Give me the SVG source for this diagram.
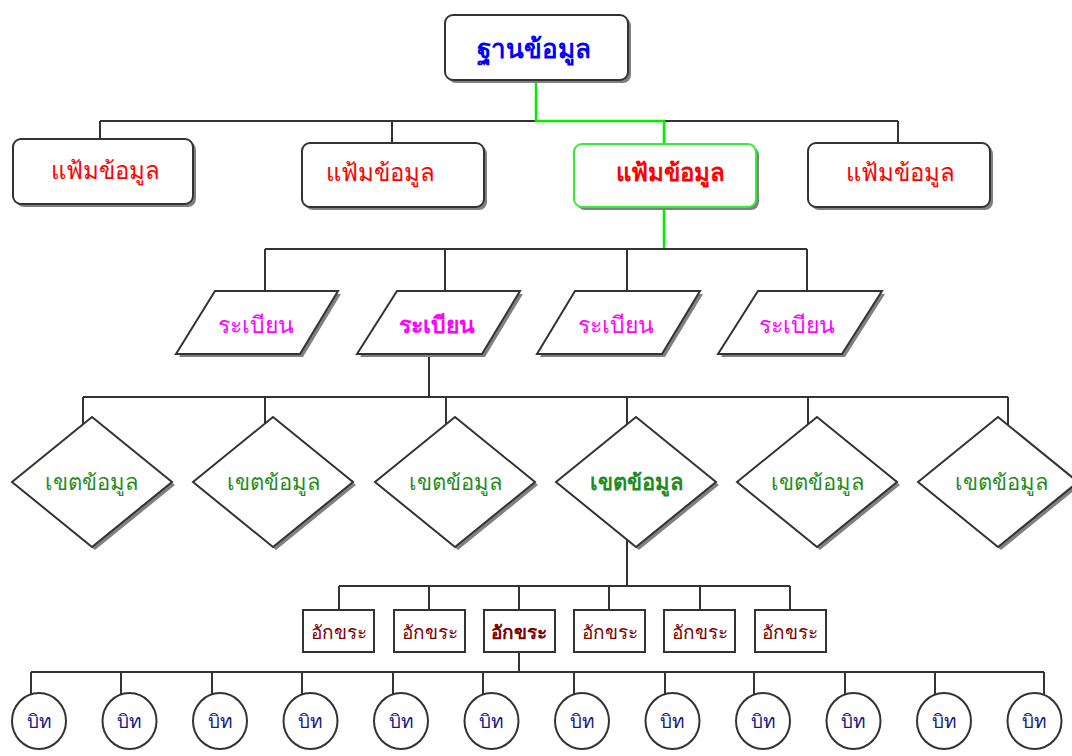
<svg xmlns="http://www.w3.org/2000/svg" width="1072" height="756" viewBox="0 0 1072 756">
<defs>
<style>
.bg{fill:#ffffff}
.ln{stroke:#333333;stroke-width:2;fill:none}
.gl{stroke:#00ee00;stroke-width:2.5;fill:none}
.box{fill:#ffffff;stroke:#333333;stroke-width:2}
.gbox{fill:#ffffff;stroke:#33ee33;stroke-width:2}
.sh{fill:#808080}
.t{font-family:"Noto Sans","DejaVu Sans",sans-serif;text-anchor:middle;dominant-baseline:central}
.t0{font-size:26px;font-weight:bold;fill:#0000ff}
.t1{font-size:24px;fill:#ff0000}
.t2{font-size:23px;fill:#ff00ff}
.t3{font-size:22px;fill:#1e8c1e}
.t4{font-size:19px;fill:#800000}
.t5{font-size:19px;fill:#1a1a8c}
.b{font-weight:bold}
</style>
</defs>
<rect class="bg" x="0" y="0" width="1072" height="756"/>
<g id="connectors">
<path class="ln" d="M100,121 H536 M664,121 H898 M100,121 V139 M392,121 V143 M898,121 V143"/>
<path class="gl" d="M536,80 V121 H664 V144 M664,207 V249"/>
<path class="ln" d="M265,249 H807 M265,249 V291 M445,249 V291 M627,249 V291 M807,249 V291"/>
<path class="ln" d="M429,354 V397 M83,397 H1008 M83,397 V430 M265,397 V430 M446,397 V430 M627,397 V430 M808,397 V430 M1008,397 V430"/>
<path class="ln" d="M627,538 V586 M339,586 H790 M339,586 V610 M429,586 V610 M519,586 V610 M609,586 V610 M700,586 V610 M790,586 V610"/>
<path class="ln" d="M519,652 V672 M31,672 H1044 M31,672 V700 M121,672 V700 M212,672 V700 M302,672 V700 M393,672 V700 M483,672 V700 M574,672 V700 M665,672 V700 M754,672 V700 M845,672 V700 M935,672 V700 M1044,672 V700"/>
</g>
<g id="n0">
<rect class="sh" x="448" y="18" width="183" height="65" rx="8"/>
<rect class="box" x="445" y="15" width="183" height="65" rx="8"/>
<text class="t t0" x="534" y="48">ฐานข้อมูล</text>
</g>
<g id="f1">
<rect class="sh" x="16" y="142" width="180" height="65" rx="8"/>
<rect class="box" x="13" y="139" width="180" height="65" rx="8"/>
<text class="t t1" x="105" y="169">แฟ้มข้อมูล</text>
</g>
<g id="f2">
<rect class="sh" x="305" y="146" width="182" height="64" rx="8"/>
<rect class="box" x="302" y="143" width="182" height="64" rx="8"/>
<text class="t t1" x="380" y="171">แฟ้มข้อมูล</text>
</g>
<g id="f3">
<rect class="sh" x="577" y="147" width="182" height="63" rx="8"/>
<rect class="gbox" x="574" y="144" width="182" height="63" rx="8"/>
<text class="t t1 b" x="670" y="171">แฟ้มข้อมูล</text>
</g>
<g id="f4">
<rect class="sh" x="811" y="146" width="182" height="64" rx="8"/>
<rect class="box" x="808" y="143" width="182" height="64" rx="8"/>
<text class="t t1" x="900" y="171">แฟ้มข้อมูล</text>
</g>
<g id="r1">
<polygon class="sh" points="218,294 341,294 303,357 179,357"/>
<polygon class="box" points="215,291 338,291 300,354 176,354"/>
<text class="t t2" x="256" y="324">ระเบียน</text>
</g>
<g id="r2">
<polygon class="sh" points="400,294 523,294 485,357 360,357"/>
<polygon class="box" points="397,291 520,291 482,354 357,354"/>
<text class="t t2 b" x="437" y="324">ระเบียน</text>
</g>
<g id="r3">
<polygon class="sh" points="578,294 703,294 665,357 540,357"/>
<polygon class="box" points="575,291 700,291 662,354 537,354"/>
<text class="t t2" x="616" y="324">ระเบียน</text>
</g>
<g id="r4">
<polygon class="sh" points="761,294 885,294 845,357 721,357"/>
<polygon class="box" points="758,291 882,291 842,354 718,354"/>
<text class="t t2" x="797" y="324">ระเบียน</text>
</g>
<g id="d1">
<polygon class="sh" points="95,420 175,485 95,550 15,485"/>
<polygon class="box" points="92,417 172,482 92,547 12,482"/>
<text class="t t3" x="91" y="481">เขตข้อมูล</text>
</g>
<g id="d2">
<polygon class="sh" points="276,420 356,485 276,550 196,485"/>
<polygon class="box" points="273,417 353,482 273,547 193,482"/>
<text class="t t3" x="273" y="481">เขตข้อมูล</text>
</g>
<g id="d3">
<polygon class="sh" points="458,420 538,485 458,550 378,485"/>
<polygon class="box" points="455,417 535,482 455,547 375,482"/>
<text class="t t3" x="455" y="481">เขตข้อมูล</text>
</g>
<g id="d4">
<polygon class="sh" points="639,420 719,485 639,550 559,485"/>
<polygon class="box" points="636,417 716,482 636,547 556,482"/>
<text class="t t3 b" x="636" y="481">เขตข้อมูล</text>
</g>
<g id="d5">
<polygon class="sh" points="820,420 900,485 820,550 740,485"/>
<polygon class="box" points="817,417 897,482 817,547 737,482"/>
<text class="t t3" x="817" y="481">เขตข้อมูล</text>
</g>
<g id="d6">
<polygon class="sh" points="1001,420 1081,485 1001,550 921,485"/>
<polygon class="box" points="998,417 1078,482 998,547 918,482"/>
<text class="t t3" x="1001" y="481">เขตข้อมูล</text>
</g>
<g id="c1"><rect class="box" x="303" y="610" width="71" height="42"/><text class="t t4" x="339" y="632">อักขระ</text></g>
<g id="c2"><rect class="box" x="394" y="610" width="71" height="42"/><text class="t t4" x="430" y="632">อักขระ</text></g>
<g id="c3"><rect class="box" x="484" y="610" width="71" height="42"/><text class="t t4 b" x="519" y="632">อักขระ</text></g>
<g id="c4"><rect class="box" x="574" y="610" width="71" height="42"/><text class="t t4" x="610" y="632">อักขระ</text></g>
<g id="c5"><rect class="box" x="664" y="610" width="71" height="42"/><text class="t t4" x="700" y="632">อักขระ</text></g>
<g id="c6"><rect class="box" x="755" y="610" width="71" height="42"/><text class="t t4" x="790" y="632">อักขระ</text></g>
<g id="b1"><ellipse class="box" cx="39" cy="721" rx="27" ry="28"/><text class="t t5" x="39" y="721">บิท</text></g>
<g id="b2"><ellipse class="box" cx="129.5" cy="721" rx="27" ry="28"/><text class="t t5" x="129.5" y="721">บิท</text></g>
<g id="b3"><ellipse class="box" cx="220" cy="721" rx="27" ry="28"/><text class="t t5" x="220" y="721">บิท</text></g>
<g id="b4"><ellipse class="box" cx="310.5" cy="721" rx="27" ry="28"/><text class="t t5" x="310.5" y="721">บิท</text></g>
<g id="b5"><ellipse class="box" cx="401" cy="721" rx="27" ry="28"/><text class="t t5" x="401" y="721">บิท</text></g>
<g id="b6"><ellipse class="box" cx="491.5" cy="721" rx="27" ry="28"/><text class="t t5" x="491.5" y="721">บิท</text></g>
<g id="b7"><ellipse class="box" cx="582" cy="721" rx="27" ry="28"/><text class="t t5" x="582" y="721">บิท</text></g>
<g id="b8"><ellipse class="box" cx="672.5" cy="721" rx="27" ry="28"/><text class="t t5" x="672.5" y="721">บิท</text></g>
<g id="b9"><ellipse class="box" cx="763" cy="721" rx="27" ry="28"/><text class="t t5" x="763" y="721">บิท</text></g>
<g id="b10"><ellipse class="box" cx="853.5" cy="721" rx="27" ry="28"/><text class="t t5" x="853.5" y="721">บิท</text></g>
<g id="b11"><ellipse class="box" cx="944" cy="721" rx="27" ry="28"/><text class="t t5" x="944" y="721">บิท</text></g>
<g id="b12"><ellipse class="box" cx="1034.5" cy="721" rx="27" ry="28"/><text class="t t5" x="1034.5" y="721">บิท</text></g>
</svg>
